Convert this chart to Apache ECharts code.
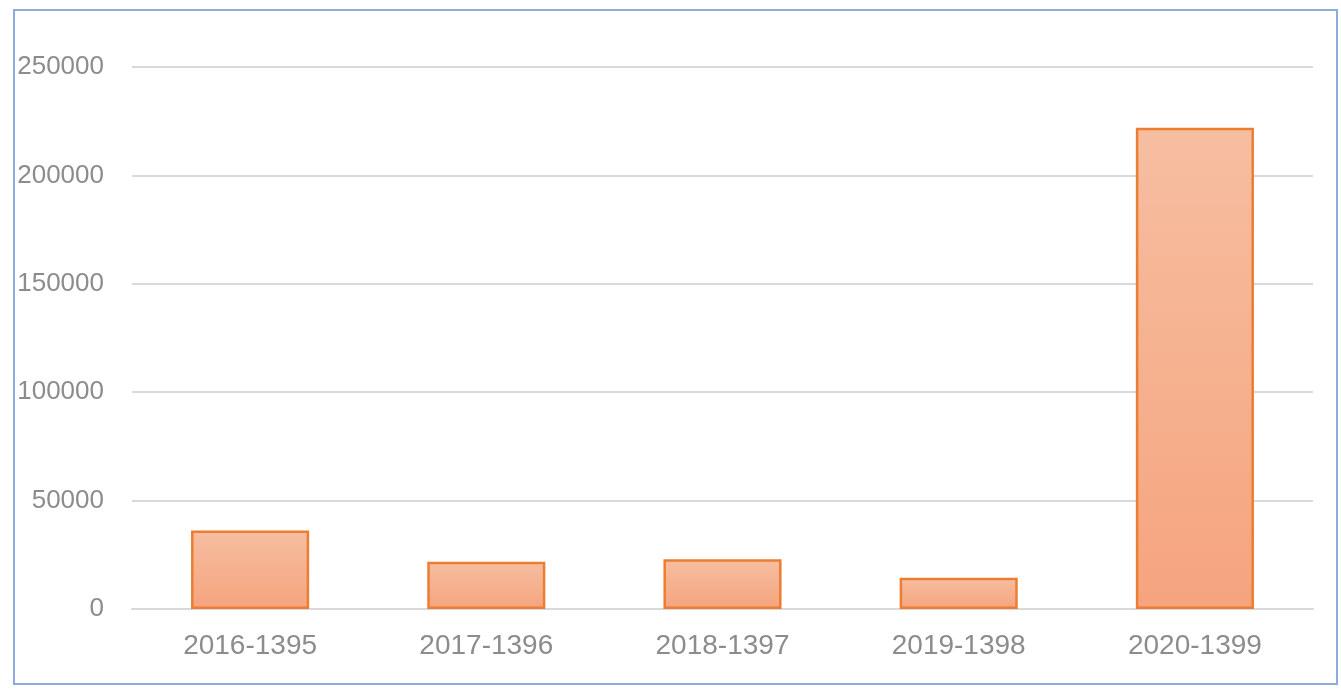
<!DOCTYPE html>
<html lang="en">
<head>
  <meta charset="UTF-8">
  <title>bar chart</title>
  <style>
    html, body { margin: 0; padding: 0; background: #fff; }
    #frame {
      position: absolute; left: 13px; top: 9px;
      width: 1321px; height: 672px;
      border: 2px solid #8faadc;
    }
    #main { width: 100%; height: 100%; }
  </style>
  <script src="https://cdn.jsdelivr.net/npm/echarts@6/dist/echarts.min.js"></script>
</head>
<body>
  <div id="frame"><div id="main"></div></div>
  <script>
    var categories = ['2016-1395', '2017-1396', '2018-1397', '2019-1398', '2020-1399'];
    var values = [36200, 21800, 22900, 14400, 222000];
    var yTicks = { min: 0, max: 250000, step: 50000 };

    var myChart = echarts.init(document.getElementById('main'));

    var option = {
      animation: false,
      grid: { left: 117, right: 23, top: 56, bottom: 74, outerBoundsMode: 'none', containLabel: false },
      xAxis: {
        type: 'category',
        data: categories,
        axisTick: { show: false },
        axisLine: { lineStyle: { color: '#d9d9d9', width: 2 } },
        axisLabel: {
          color: '#8c8c8c', fontSize: 28, margin: 23,
          fontFamily: 'Liberation Sans, Arial, sans-serif'
        }
      },
      yAxis: {
        type: 'value',
        min: yTicks.min, max: yTicks.max, interval: yTicks.step,
        axisLine: { show: false },
        axisTick: { show: false },
        splitLine: { lineStyle: { color: '#d9d9d9', width: 2 } },
        axisLabel: {
          color: '#8c8c8c', fontSize: 26, margin: 28,
          fontFamily: 'Liberation Sans, Arial, sans-serif',
          formatter: function (v) { return String(v); }
        }
      },
      series: [{
        type: 'bar',
        data: values,
        barWidth: '50%',
        itemStyle: {
          borderColor: '#ed7d31',
          borderWidth: 2.5,
          color: new echarts.graphic.LinearGradient(0, 0, 0, 1, [
            { offset: 0, color: '#f6bea1' },
            { offset: 1, color: '#f5a47d' }
          ])
        }
      }]
    };

    myChart.setOption(option);
  </script>
</body>
</html>
